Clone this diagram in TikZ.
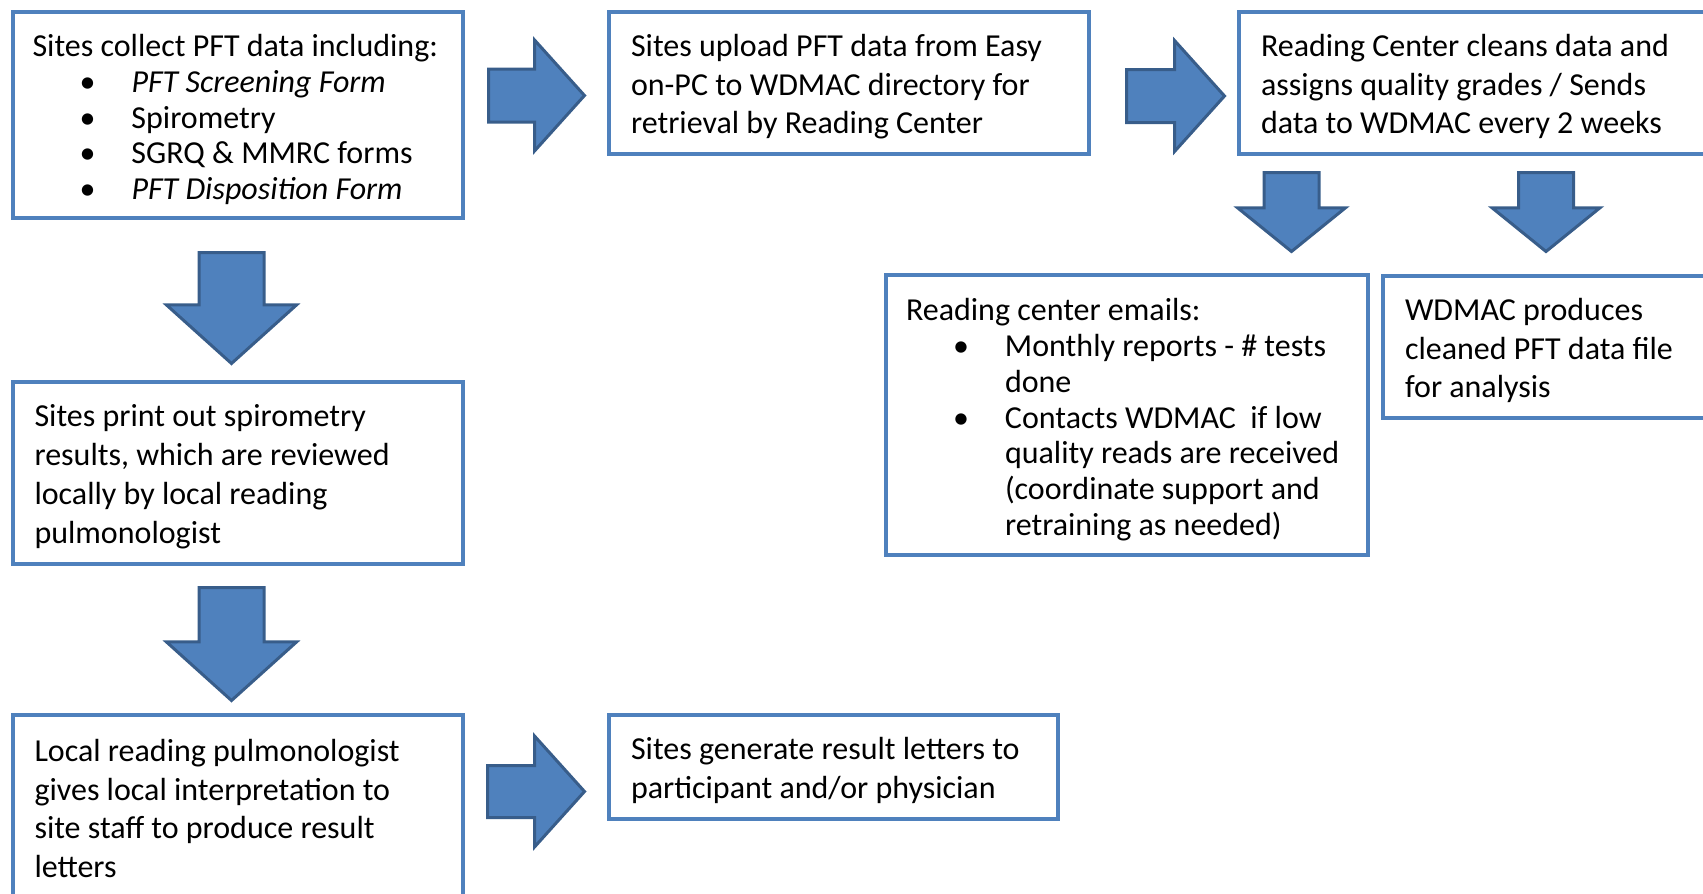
\documentclass[tikz,border=0pt]{standalone}
\usepackage{fontspec}
\setmainfont{Carlito}
\usetikzlibrary{shapes.arrows}

\definecolor{boxblue}{HTML}{4F81BD}
\definecolor{arrowfill}{HTML}{4F81BD}
\definecolor{arrowline}{HTML}{385D8A}

% bullet and hanging indent for the list lines
\newcommand{\bul}{\hspace*{55pt}\makebox[0pt]{\textbullet}\hspace*{44pt}}
\newcommand{\ind}{\hspace*{99pt}}

\begin{document}
\begin{tikzpicture}[x=1pt, y=-1pt,
    box/.style={draw=boxblue, line width=4pt, outer sep=0pt, inner xsep=22pt, inner ysep=0pt,
        align=flush left, anchor=north west, font=\fontsize{32}{38.8}\selectfont,
        execute at begin node={\rule{0pt}{32pt}}, execute at end node={\rule[-8pt]{0pt}{0pt}}},
    listbox/.style={box, inner xsep=20pt, font=\fontsize{32}{35.8}\selectfont,
        execute at begin node={\rule{0pt}{34pt}}},
    bigarrow/.style={single arrow, draw=arrowline, fill=arrowfill, line width=3pt,
        inner sep=0pt, outer sep=0pt, single arrow head indent=0pt, anchor=tail},
    rightarrow/.style={bigarrow, inner ysep=25pt, single arrow head extend=29pt,
        minimum width=108pt, single arrow tip angle=96},
    downarrow/.style={bigarrow, rotate=-90, inner ysep=31pt, single arrow head extend=32.5pt,
        minimum width=127pt, single arrow tip angle=96},
    smalldown/.style={bigarrow, rotate=-90, inner ysep=26pt, single arrow head extend=26.5pt,
        minimum width=105pt, minimum height=79pt, single arrow tip angle=102}]

    \useasboundingbox (0,0) rectangle (1703,894);
    \clip (0,0) rectangle (1703,894);

    % top row
    \node[listbox, minimum width=450.5pt, minimum height=206pt, text width=410.5pt] (collect) at (12.5,12)
        {Sites collect PFT data including:\\
         \bul\textit{PFT Screening Form}\\
         \bul Spirometry\\
         \bul SGRQ \& MMRC forms\\
         \bul\textit{PFT Disposition Form}};
    \node[box, minimum width=480pt, minimum height=142pt, text width=436pt] (upload) at (609,12)
        {Sites upload PFT data from Easy\\ on-PC to WDMAC directory for\\ retrieval by Reading Center};
    \node[box, minimum width=482pt, minimum height=142pt, text width=438pt] (clean) at (1239,12)
        {Reading Center cleans data and\\ assigns quality grades / Sends\\ data to WDMAC every 2 weeks};

    \node[rightarrow, minimum height=96pt] (toupload) at (488.5,95.5) {};
    \node[rightarrow, minimum height=98pt] (toclean) at (1126.5,96) {};

    % reading center outputs
    \node[smalldown] (toemails) at (1291.5,172.5) {};
    \node[smalldown] (towdmac) at (1546,172.5) {};

    \node[listbox, minimum width=482pt, minimum height=280pt, text width=442pt] (emails) at (886,275)
        {Reading center emails:\\
         \bul Monthly reports - \# tests\\
         \ind done\\
         \bul Contacts WDMAC\ \ if low\\
         \ind quality reads are received\\
         \ind (coordinate support and\\
         \ind retraining as needed)};
    \node[box, minimum width=357pt, minimum height=142pt, text width=313pt] (wdmac) at (1383,276)
        {WDMAC produces\\ cleaned PFT data file\\ for analysis};

    % local reading at the sites
    \node[downarrow, minimum height=111pt] (toprint) at (231.5,252.5) {};
    \node[box, minimum width=450.5pt, minimum height=182pt, text width=406.5pt] (printout) at (12.5,382)
        {Sites print out spirometry\\ results, which are reviewed\\ locally by local reading\\ pulmonologist};
    \node[downarrow, minimum height=113pt] (tointerp) at (231.5,587.5) {};
    \node[box, minimum width=450.5pt, minimum height=185pt, text width=406.5pt] (interp) at (12.5,715)
        {Local reading pulmonologist\\ gives local interpretation to\\ site staff to produce result\\ letters};

    \node[bigarrow, inner ysep=24.5pt, single arrow head extend=29.5pt, minimum width=108pt,
        minimum height=97pt, single arrow tip angle=96] (toletters) at (487.5,791.5) {};
    \node[box, minimum width=449pt, minimum height=104pt, text width=405pt] (letters) at (609,715)
        {Sites generate result letters to\\ participant and/or physician};
\end{tikzpicture}
\end{document}
